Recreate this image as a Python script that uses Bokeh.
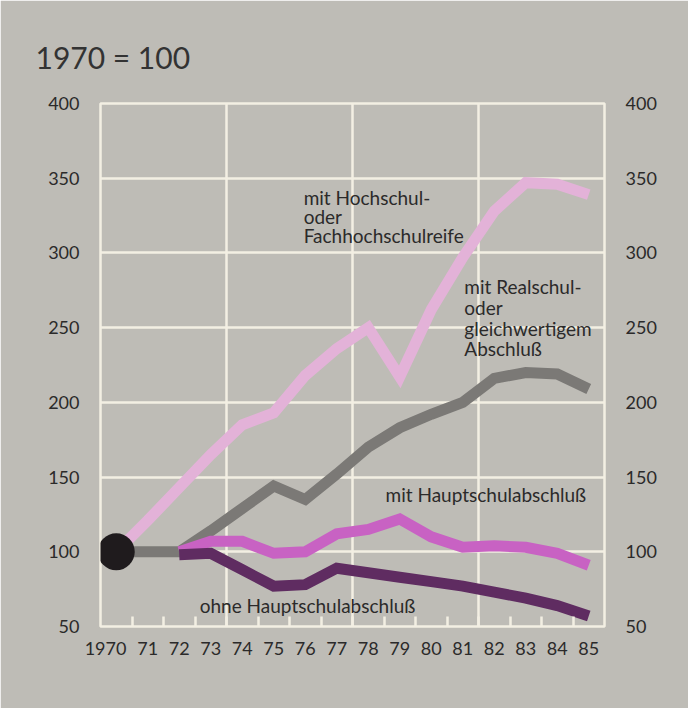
from bokeh.plotting import figure
from bokeh.models import Range1d, FixedTicker, LinearAxis, Label
from bokeh.embed import file_html
from bokeh.resources import INLINE

# ---- data ----
years = [1970, 1971, 1972, 1973, 1974, 1975, 1976, 1977, 1978, 1979,
         1980, 1981, 1982, 1983, 1984, 1985]
year_labels = ["1970", "71", "72", "73", "74", "75", "76", "77", "78", "79",
               "80", "81", "82", "83", "84", "85"]
hochschul = [100, 121, 143, 165, 185, 193, 218, 236, 250, 217,
             262, 297, 328, 347, 346, 339]
realschul = [100, 100, 100, 114, 129, 144, 135, 152, 170, 183,
             192, 200, 216, 220, 219, 209]
years_72 = [1972, 1973, 1974, 1975, 1976, 1977, 1978, 1979,
            1980, 1981, 1982, 1983, 1984, 1985]
hauptschul = [100, 107, 107, 99, 100, 112, 115, 122,
              110, 103, 104, 103, 99, 91]
ohne = [98, 99, 88, 77, 78, 89, 86, 83,
        80, 77, 73, 69, 64, 57]
y_ticks = [50, 100, 150, 200, 250, 300, 350, 400]
base_year = [1970]
base_value = [100]

# ---- style ----
BG = "#bebcb6"
CREAM = "#f3efe3"
TXT = "#2b2a2a"
FONT = "Lato"
FIRST_LABEL_SHIFT = -0.34   # the printed "1970" sits a little left of its year

p = figure(width=688, height=708,
           x_range=Range1d(1969.5, 1985.5), y_range=Range1d(50, 400),
           output_backend="svg", toolbar_location=None,
           min_border_left=100, min_border_right=84,
           min_border_top=103, min_border_bottom=82)
p.background_fill_color = BG
p.border_fill_color = BG
p.outline_line_color = CREAM
p.outline_line_width = 2.5

p.title.text = "1970 = 100"
p.title.align = "left"
p.title.offset = -65
p.title.standoff = 58
p.title.text_font = FONT
p.title.text_font_size = "30px"
p.title.text_font_style = "normal"
p.title.text_color = "#333333"

p.xgrid.ticker = FixedTicker(ticks=[1973.5, 1977.5, 1981.5])
p.ygrid.ticker = FixedTicker(ticks=y_ticks)
for g in (p.xgrid, p.ygrid):
    g.grid_line_color = CREAM
    g.grid_line_width = 2.5
    g.grid_line_alpha = 1.0

# bottom axis
label_pos = [years[0] + FIRST_LABEL_SHIFT] + years[1:]
xa = p.xaxis[0]
xa.ticker = FixedTicker(ticks=label_pos, minor_ticks=[y + 0.5 for y in years[:-1]])
xa.major_label_overrides = {pos: l for pos, l in zip(label_pos, year_labels)}
xa.axis_line_color = None
xa.major_tick_in = 0
xa.major_tick_out = 0
xa.minor_tick_in = 10
xa.minor_tick_out = 0
xa.minor_tick_line_color = CREAM
xa.minor_tick_line_width = 2.5
xa.major_label_standoff = 15
xa.major_label_text_font = FONT
xa.major_label_text_font_size = "18px"
xa.major_label_text_color = TXT

# left and right axes
ya = p.yaxis[0]
ra = LinearAxis()
p.add_layout(ra, "right")
for ax in (ya, ra):
    ax.ticker = FixedTicker(ticks=y_ticks)
    ax.axis_line_color = None
    ax.major_tick_in = 0
    ax.major_tick_out = 0
    ax.minor_tick_line_color = None
    ax.major_label_standoff = 21
    ax.major_label_text_font = FONT
    ax.major_label_text_font_size = "18px"
    ax.major_label_text_color = TXT

# series
common = dict(line_width=11, line_join="miter", line_cap="butt")
p.line(years, hochschul, line_color="#e3b2d8", **common)
p.line(years, realschul, line_color="#7b7976", **common)
p.line(years_72, hauptschul, line_color="#c862c3", **common)
p.line(years_72, ohne, line_color="#5f2c61", **common)
p.scatter(base_year, base_value, size=37, fill_color="#1f1b1d", line_color=None)

# series annotations
ann = dict(text_font=FONT, text_font_size="19px", text_color=TXT,
           text_align="left", text_baseline="top")
p.add_layout(Label(x=1975.95, y=345, text="mit Hochschul-\noder\nFachhochschulreife",
                   text_line_height=0.83, **ann))
p.add_layout(Label(x=1981.05, y=285, text="mit Realschul-\noder\ngleichwertigem\nAbschluß",
                   text_line_height=0.9, **ann))
p.add_layout(Label(x=1978.55, y=146, text="mit Hauptschulabschluß", **ann))
p.add_layout(Label(x=1972.65, y=72, text="ohne Hauptschulabschluß", **ann))

html = file_html(p, INLINE)
html = html.replace("<body>", '<body style="margin:0;background:%s">' % BG, 1)
open("out.html", "w").write(html)
